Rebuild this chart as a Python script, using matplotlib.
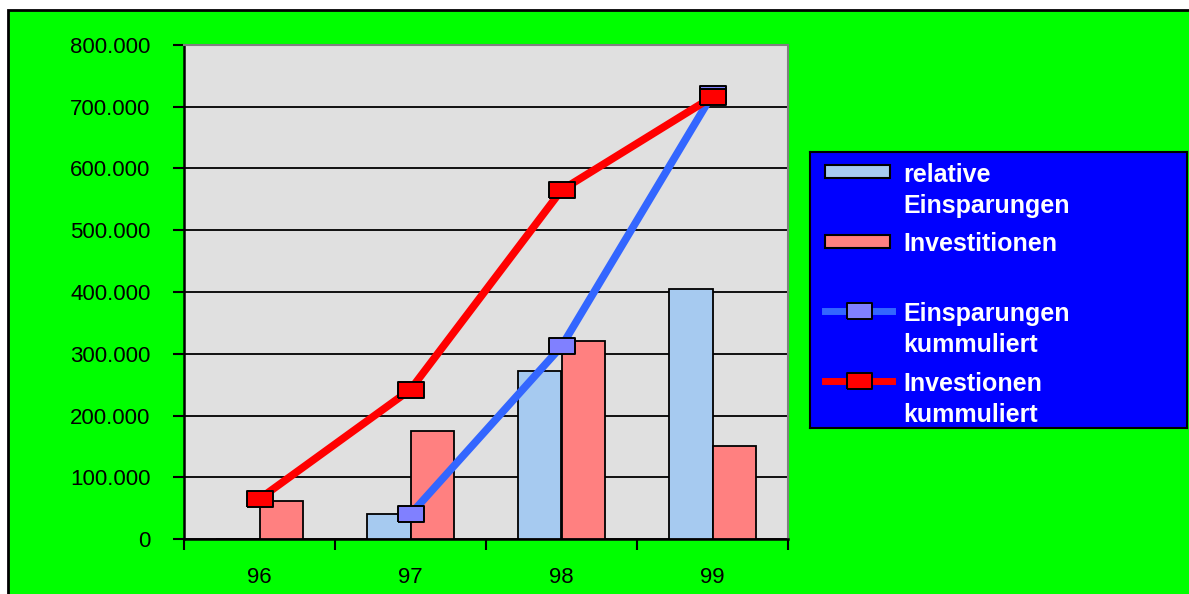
import numpy as np
import matplotlib.pyplot as plt
from matplotlib.patches import Rectangle
from matplotlib.lines import Line2D

plt.rcParams['font.family'] = ['Liberation Sans', 'DejaVu Sans']

# Daten
jahre = ['96', '97', '98', '99']
rel_einsparungen = [0, 40000, 272000, 405000]
investitionen = [62000, 175000, 321000, 150000]
einsp_kumm_jahre = [1, 2, 3]
einsp_kumm = [40000, 312000, 720000]
inv_kumm = [65000, 242000, 565000, 716000]
y_ticks = [0, 100000, 200000, 300000, 400000, 500000, 600000, 700000, 800000]
y_labels = ['0', '100.000', '200.000', '300.000', '400.000', '500.000',
            '600.000', '700.000', '800.000']

W, H = 1189, 594
fig = plt.figure(figsize=(W / 100, H / 100), dpi=100)
fig.patch.set_facecolor('white')

# gruener Hintergrund mit schwarzem Rand oben/links
fig.patches.append(Rectangle((8 / W, -0.1), 1.2, 1 - 10 / H + 0.1,
                             transform=fig.transFigure, facecolor='#00FF00',
                             edgecolor='black', lw=2, zorder=-10))

ax = fig.add_axes([184 / W, 1 - 539 / H, 604 / W, 494 / H])
ax.set_facecolor('#E0E0E0')

x = np.arange(len(jahre))
w = 0.285
ax.bar(x - w / 2, rel_einsparungen, w, color='#A6CAF0', edgecolor='black',
       lw=1.3, zorder=3)
ax.bar(x + w / 2, investitionen, w, color='#FF8080', edgecolor='black',
       lw=1.3, zorder=3)

rect = [(-1, -0.62), (1, -0.62), (1, 0.62), (-1, 0.62), (-1, -0.62)]
ax.plot(einsp_kumm_jahre, einsp_kumm, color='#3366FF', lw=5.5, marker=rect,
        ms=19, mfc='#8080FF', mec='black', mew=1.4, zorder=4,
        solid_capstyle='butt')
ax.plot(x, inv_kumm, color='#FF0000', lw=5.5, marker=rect,
        ms=19, mfc='#FF0000', mec='black', mew=1.4, zorder=5,
        solid_capstyle='butt')

ax.set_xlim(-0.5, 3.5)
ax.set_ylim(0, 800000)
ax.set_yticks(y_ticks)
ax.set_yticklabels(y_labels)
ax.set_xticks(x)
ax.set_xticklabels(jahre)
ax.set_xticks(np.arange(-0.5, 4, 1), minor=True)
ax.tick_params(axis='x', which='major', length=0, pad=20, labelsize=16)
ax.tick_params(axis='x', which='minor', length=8, width=1.5, direction='out')
ax.tick_params(axis='y', length=8, width=1.5, direction='out', pad=16,
               labelsize=16)
ax.yaxis.grid(True, color='black', lw=1.3, zorder=1)
ax.set_axisbelow(True)

for s in ['top', 'right']:
    ax.spines[s].set_color('#808080')
    ax.spines[s].set_linewidth(1.5)
for s in ['left', 'bottom']:
    ax.spines[s].set_color('black')
    ax.spines[s].set_linewidth(1.8)

# Legende
lg = fig.add_axes([810 / W, 1 - 428 / H, 377 / W, 276 / H])
lg.set_facecolor('#0000FF')
lg.set_xlim(0, 377)
lg.set_ylim(276, 0)
lg.set_xticks([])
lg.set_yticks([])
for s in lg.spines.values():
    s.set_color('black')
    s.set_linewidth(1.5)

lg.add_patch(Rectangle((15, 13), 65, 13, facecolor='#A6CAF0',
                       edgecolor='black', lw=1.5))
lg.add_patch(Rectangle((15, 83), 65, 13, facecolor='#FF8080',
                       edgecolor='black', lw=1.5))
lg.add_line(Line2D([15, 48.5, 82], [159, 159, 159], color='#3366FF', lw=5,
                   marker=rect, markevery=[1], ms=18, mfc='#8080FF',
                   mec='black', mew=1.4))
lg.add_line(Line2D([15, 48.5, 82], [229, 229, 229], color='#FF0000', lw=5,
                   marker=rect, markevery=[1], ms=18, mfc='#FF0000',
                   mec='black', mew=1.4))

txt = dict(color='white', fontsize=18, fontweight='bold', va='top',
           ha='left', linespacing=1.38)
lg.text(93, 11, 'relative\nEinsparungen', **txt)
lg.text(93, 80, 'Investitionen', **txt)
lg.text(93, 150, 'Einsparungen\nkummuliert', **txt)
lg.text(93, 220, 'Investionen\nkummuliert', **txt)

fig.savefig('out.png', dpi=100)
